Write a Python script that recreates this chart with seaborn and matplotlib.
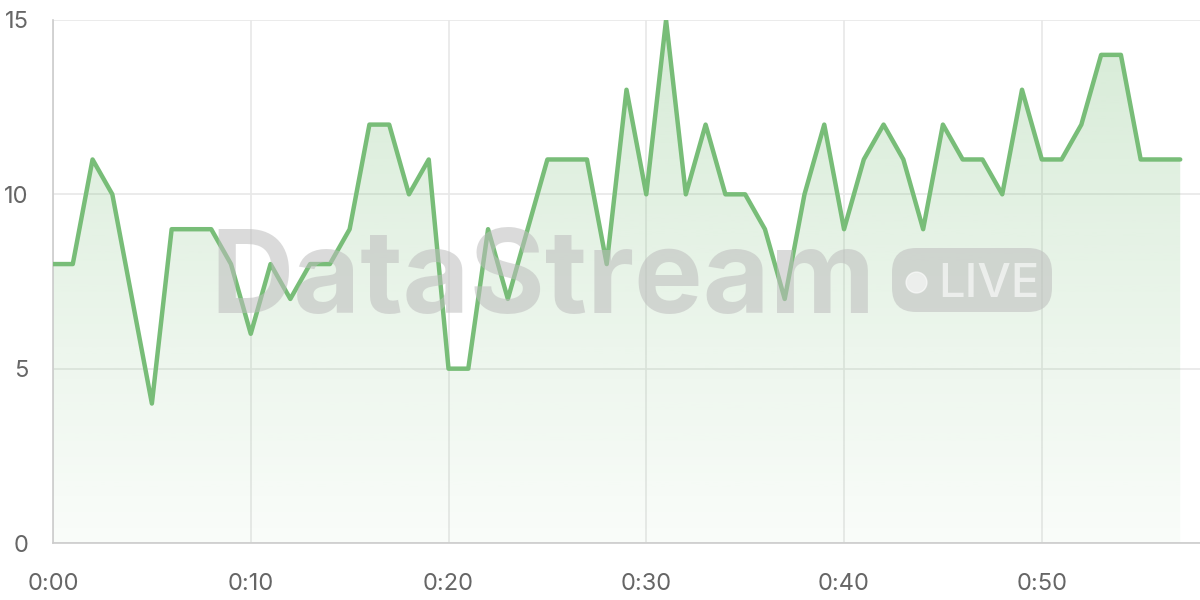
import numpy as np
import pandas as pd
import matplotlib
matplotlib.use("Agg")
import matplotlib.pyplot as plt
from matplotlib.patches import FancyBboxPatch
from matplotlib.lines import Line2D
import seaborn as sns

# values per minute
minutes = list(range(58))
values = [8, 8, 11, 10, 7, 4, 9, 9, 9, 8,
          6, 8, 7, 8, 8, 9, 12, 12, 10, 11,
          5, 5, 9, 7, 9, 11, 11, 11, 8, 13,
          10, 15, 10, 12, 10, 10, 9, 7, 10, 12,
          9, 11, 12, 11, 9, 12, 11, 11, 10, 13,
          11, 11, 12, 14, 14, 11, 11, 11]
x_ticks = [0, 10, 20, 30, 40, 50]
x_labels = ["0:00", "0:10", "0:20", "0:30", "0:40", "0:50"]
y_ticks = [0, 5, 10, 15]

line_color = "#78bd78"
grid_color = "#e8e8e8"
text_color = "#666666"

df = pd.DataFrame({"minute": minutes, "value": values})

sns.set_style("white")
plt.rcParams["font.family"] = ["Inter", "DejaVu Sans"]

fig = plt.figure(figsize=(12, 6), dpi=100)
ax = fig.add_axes([53 / 1200, 57 / 600, 1147 / 1200, 523 / 600])
ax.set_xlim(0, 58)
ax.set_ylim(0, 15)

# watermark behind the data
fig.text(210 / 1200, 1 - 313 / 600, "DataStream", fontsize=83, fontweight="bold",
         color="#bdbdbd", alpha=0.55, ha="left", va="baseline", zorder=0)
badge = FancyBboxPatch((892 / 1200, 1 - 312 / 600), 160 / 1200, 64 / 600,
                       boxstyle="round,pad=0,rounding_size=0.02",
                       transform=fig.transFigure, facecolor="#bdbdbd",
                       edgecolor="none", alpha=0.55, zorder=0, mutation_aspect=2)
fig.patches.append(badge)
fig.add_artist(Line2D([916 / 1200], [1 - 282 / 600], marker="o", markersize=15,
                      color="white", alpha=0.6, linestyle="none",
                      transform=fig.transFigure, zorder=1))
fig.text(938 / 1200, 1 - 297 / 600, "LIVE", fontsize=34, fontweight="medium",
         color="white", alpha=0.6, ha="left", va="baseline", zorder=1)
ax.patch.set_alpha(0)

# gradient fill under the line
poly = ax.fill_between(df["minute"], df["value"], 0, color="none", lw=0)
grad = np.linspace(0.04, 0.30, 256).reshape(-1, 1)
rgba = np.zeros((256, 1, 4))
rgba[..., :3] = matplotlib.colors.to_rgb(line_color)
rgba[..., 3] = grad
img = ax.imshow(rgba, extent=[0, 57, 0, 15], origin="lower", aspect="auto", zorder=2)
img.set_clip_path(poly.get_paths()[0], transform=ax.transData)

sns.lineplot(data=df, x="minute", y="value", color=line_color, linewidth=3.2,
             ax=ax, zorder=3)

ax.set_xticks(x_ticks)
ax.set_xticklabels(x_labels)
ax.set_yticks(y_ticks)
ax.grid(True, color=grid_color, linewidth=1.2)
ax.set_axisbelow(True)
ax.set_xlabel("")
ax.set_ylabel("")
for side in ["top", "right"]:
    ax.spines[side].set_visible(False)
for side in ["left", "bottom"]:
    ax.spines[side].set_color("#cccccc")
    ax.spines[side].set_linewidth(1.2)
ax.tick_params(axis="both", colors=grid_color, length=11.5, width=1.2,
               labelcolor=text_color, labelsize=17)
ax.tick_params(axis="y", pad=6)
ax.tick_params(axis="x", pad=10)

fig.savefig("out.png", dpi=100)
